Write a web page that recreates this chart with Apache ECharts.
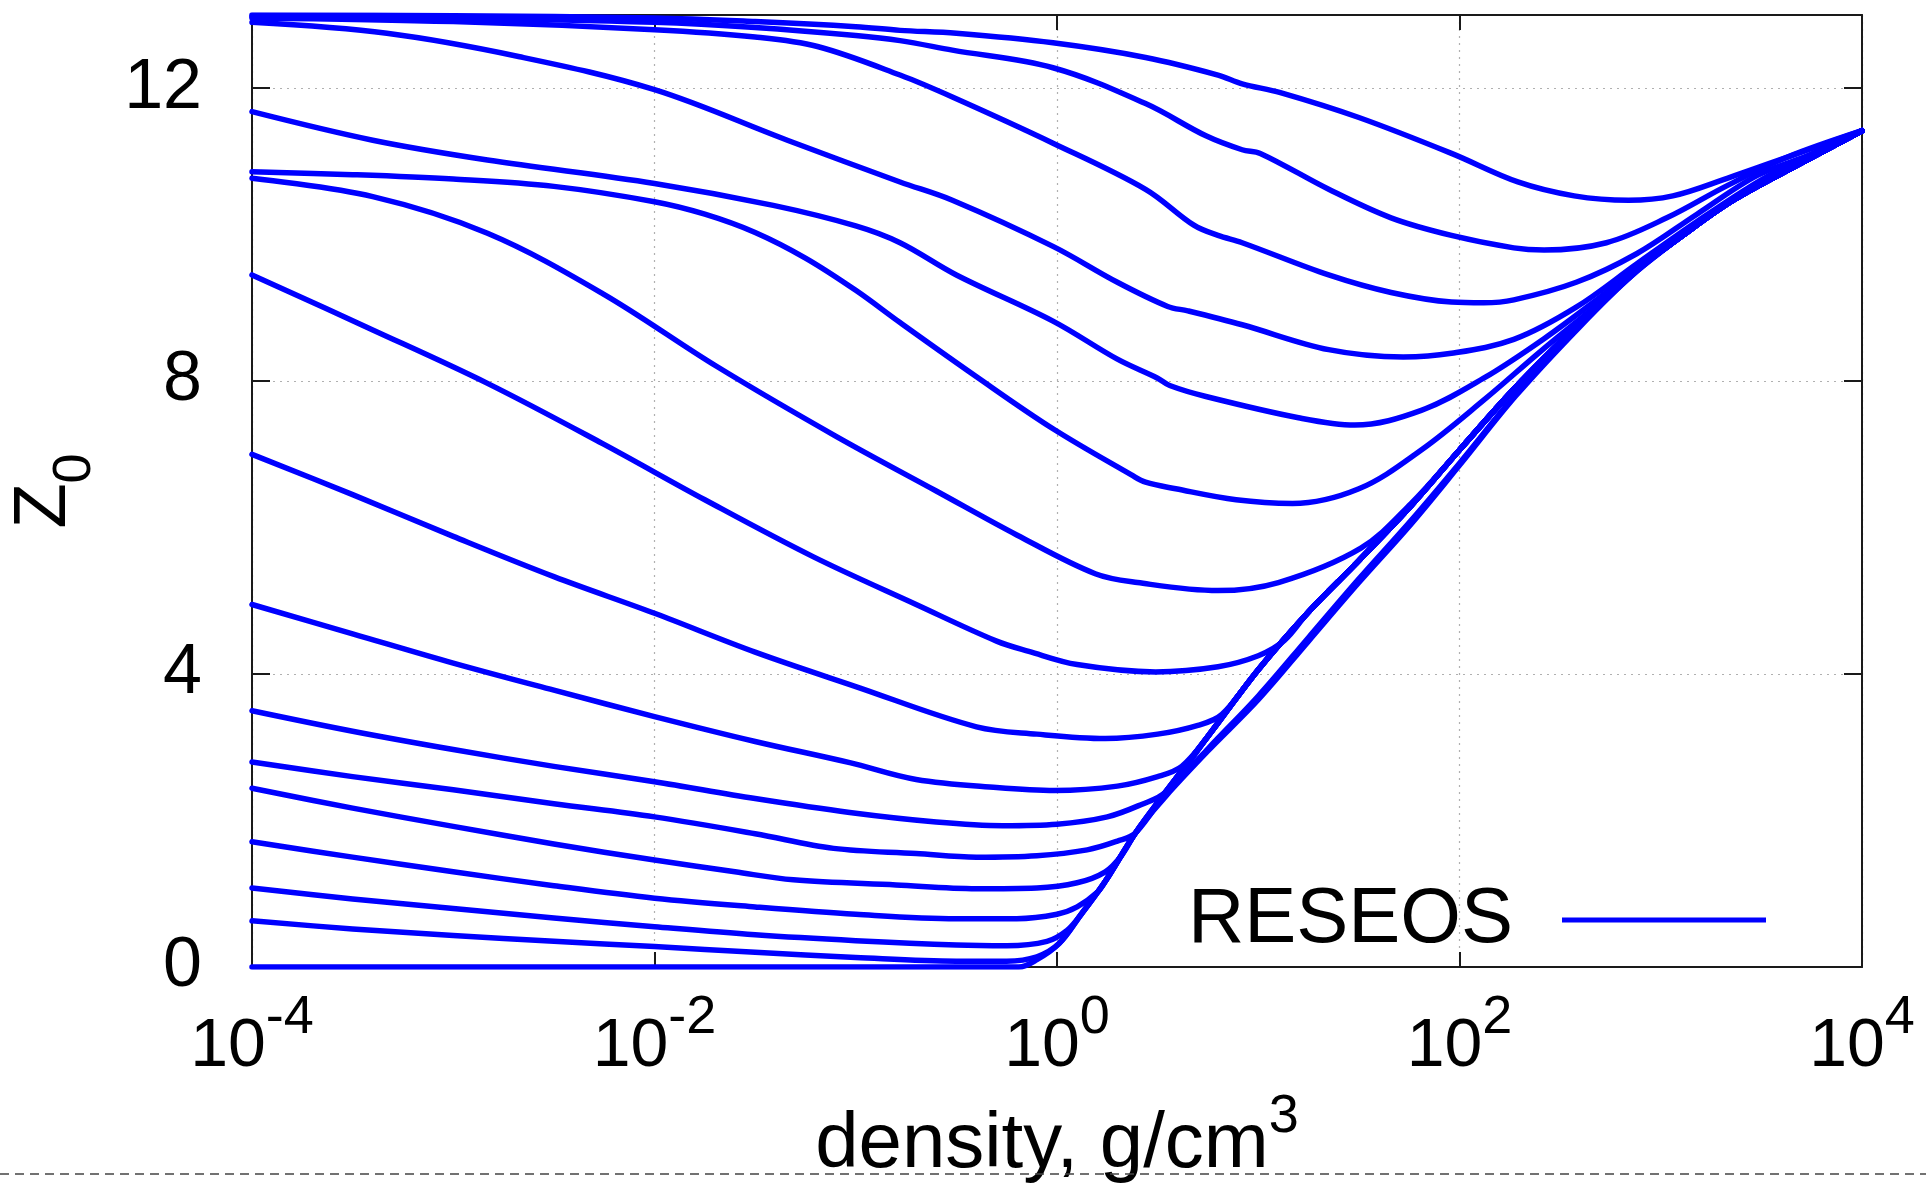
<!DOCTYPE html>
<html>
<head>
<meta charset="utf-8">
<script src="https://cdn.jsdelivr.net/npm/echarts@6/dist/echarts.min.js"></script>
<style>
  html, body { margin: 0; padding: 0; background: #ffffff; }
  #chart { width: 1926px; height: 1183px; }
</style>
</head>
<body>
<div id="chart"></div>
<script>
// Mean ion charge Z0 versus density; every array is one isotherm,
// points are [log10(density, g/cm^3), Z0].
const iso01 = [[-4,13.0],[-3,12.99],[-2,12.96],[-1.5,12.91],[-1,12.84],[-0.78,12.79],[-0.5,12.75],[-0.02,12.62],[0.44,12.42],[0.8,12.18],[0.92,12.06],[1.11,11.94],[1.5,11.6],[1.96,11.11],[2.29,10.72],[2.57,10.53],[2.84,10.47],[3.06,10.53],[3.33,10.77],[3.63,11.06],[4,11.42]];
const iso02 = [[-4,12.98],[-3,12.96],[-2,12.9],[-1.5,12.83],[-1,12.72],[-0.78,12.65],[-0.52,12.52],[-0.02,12.28],[0.44,11.79],[0.74,11.35],[0.92,11.16],[1.01,11.11],[1.35,10.62],[1.66,10.23],[1.96,9.99],[2.27,9.82],[2.42,9.79],[2.73,9.89],[3.03,10.23],[3.33,10.67],[3.63,11.06],[4,11.42]];
const iso03 = [[-4,12.96],[-3,12.91],[-2,12.8],[-1.5,12.7],[-1.19,12.57],[-0.78,12.18],[-0.52,11.88],[-0.02,11.25],[0.44,10.62],[0.68,10.13],[0.8,9.99],[0.92,9.89],[1.35,9.45],[1.66,9.21],[1.96,9.08],[2.12,9.07],[2.27,9.11],[2.58,9.35],[2.88,9.74],[3.18,10.28],[3.48,10.81],[3.75,11.1],[4,11.42]];
const iso04 = [[-4,12.9],[-3.33,12.75],[-2.67,12.43],[-2,11.98],[-1.34,11.29],[-0.78,10.72],[-0.52,10.47],[-0.02,9.84],[0.3,9.35],[0.55,9.02],[0.65,8.96],[0.92,8.77],[1.35,8.43],[1.72,8.33],[1.96,8.38],[2.27,8.57],[2.58,9.01],[2.88,9.6],[3.18,10.18],[3.5,10.75],[3.75,11.1],[4,11.42]];
const iso05 = [[-4,11.68],[-3.4,11.29],[-2.83,11.02],[-2,10.7],[-1.41,10.4],[-1,10.12],[-0.78,9.89],[-0.5,9.45],[-0.02,8.82],[0.3,8.3],[0.5,8.04],[0.56,7.94],[0.74,7.79],[1.2,7.5],[1.48,7.4],[1.81,7.6],[2.12,8.04],[2.42,8.58],[2.7,9.15],[2.86,9.5],[3.1,9.99],[3.36,10.47],[3.7,10.98],[4,11.42]];
const iso06 = [[-4,10.86],[-3.5,10.82],[-3,10.76],[-2.5,10.66],[-2,10.45],[-1.75,10.28],[-1.5,10.03],[-1.25,9.68],[-1,9.24],[-0.78,8.8],[-0.4,8.06],[-0.02,7.35],[0.37,6.72],[0.44,6.62],[0.59,6.53],[0.89,6.38],[1.17,6.33],[1.5,6.53],[1.81,7.06],[2.12,7.74],[2.4,8.4],[2.7,9.08],[2.86,9.47],[3.1,9.97],[3.36,10.47],[3.7,10.98],[4,11.42]];
const iso07 = [[-4,10.77],[-3.4,10.52],[-2.83,10.02],[-2.26,9.2],[-1.69,8.2],[-1.1,7.25],[-0.6,6.5],[-0.2,5.9],[0.19,5.37],[0.4,5.25],[0.8,5.14],[1.1,5.25],[1.51,5.72],[1.76,6.33],[2.0,7.06],[2.28,7.92],[2.6,8.8],[2.86,9.47],[3.1,9.97],[3.36,10.47],[3.7,10.98],[4,11.42]];
const iso08 = [[-4,9.45],[-3.4,8.7],[-2.83,7.97],[-2.26,7.15],[-1.75,6.38],[-1.21,5.6],[-0.7,4.95],[-0.3,4.45],[-0.14,4.31],[0.1,4.13],[0.49,4.03],[0.8,4.1],[1.0,4.25],[1.13,4.46],[1.25,4.85],[1.5,5.55],[1.76,6.3],[2.0,7.06],[2.28,7.92],[2.6,8.8],[2.86,9.47],[3.1,9.97],[3.36,10.47],[3.7,10.98],[4,11.42]];
const iso09 = [[-4,7.0],[-3.5,6.45],[-3,5.88],[-2.5,5.33],[-2,4.83],[-1.5,4.3],[-1,3.83],[-0.4,3.28],[-0.1,3.18],[0.24,3.12],[0.5,3.18],[0.7,3.3],[0.82,3.45],[1.0,4.06],[1.25,4.85],[1.5,5.55],[1.76,6.3],[2.0,7.06],[2.28,7.92],[2.6,8.8],[2.86,9.47],[3.1,9.97],[3.36,10.47],[3.7,10.98],[4,11.42]];
const iso10 = [[-4,4.95],[-3.5,4.55],[-3,4.15],[-2.5,3.78],[-2,3.42],[-1.5,3.08],[-1.03,2.79],[-0.7,2.56],[-0.3,2.45],[-0.01,2.41],[0.3,2.47],[0.5,2.6],[0.62,2.74],[0.75,3.15],[1.0,4.06],[1.25,4.85],[1.5,5.55],[1.76,6.3],[2.0,7.06],[2.28,7.92],[2.6,8.8],[2.86,9.47],[3.1,9.97],[3.36,10.47],[3.7,10.98],[4,11.42]];
const iso11 = [[-4,3.5],[-3.5,3.22],[-3,2.97],[-2.5,2.74],[-2,2.53],[-1.5,2.3],[-1.03,2.11],[-0.6,1.98],[-0.27,1.93],[0,1.95],[0.25,2.05],[0.42,2.22],[0.54,2.39],[0.75,3.15],[1.0,4.06],[1.25,4.85],[1.5,5.55],[1.76,6.3],[2.0,7.06],[2.28,7.92],[2.6,8.8],[2.86,9.47],[3.1,9.97],[3.36,10.47],[3.7,10.98],[4,11.42]];
const iso12 = [[-4,2.8],[-3.5,2.6],[-3,2.42],[-2.5,2.23],[-2,2.05],[-1.5,1.82],[-1.11,1.62],[-0.7,1.55],[-0.4,1.5],[-0.1,1.52],[0.15,1.6],[0.3,1.72],[0.39,1.83],[0.54,2.39],[0.75,3.15],[1.0,4.06],[1.25,4.85],[1.5,5.55],[1.76,6.3],[2.0,7.06],[2.28,7.92],[2.6,8.8],[2.86,9.47],[3.1,9.97],[3.36,10.47],[3.7,10.98],[4,11.42]];
const iso13 = [[-4,2.44],[-3.5,2.17],[-3,1.92],[-2.5,1.68],[-2,1.46],[-1.6,1.3],[-1.31,1.19],[-0.8,1.12],[-0.4,1.07],[-0.1,1.08],[0.1,1.15],[0.24,1.3],[0.32,1.52],[0.39,1.83],[0.54,2.39],[0.75,3.15],[1.0,4.06],[1.25,4.85],[1.5,5.55],[1.76,6.3],[2.0,7.06],[2.28,7.92],[2.6,8.8],[2.86,9.47],[3.1,9.97],[3.36,10.47],[3.7,10.98],[4,11.42]];
const iso14 = [[-4,1.71],[-3.5,1.5],[-3,1.3],[-2.5,1.11],[-2,0.94],[-1.5,0.82],[-1,0.72],[-0.5,0.66],[-0.2,0.66],[0,0.72],[0.1,0.82],[0.2,1.02],[0.24,1.17],[0.39,1.83],[0.54,2.39],[0.75,3.15],[1.0,4.06],[1.25,4.85],[1.5,5.55],[1.76,6.3],[2.0,7.06],[2.28,7.92],[2.6,8.8],[2.86,9.47],[3.1,9.97],[3.36,10.47],[3.7,10.98],[4,11.42]];
const iso15 = [[-4,1.08],[-3.5,0.93],[-3,0.8],[-2.5,0.67],[-2,0.55],[-1.5,0.44],[-1,0.36],[-0.5,0.3],[-0.25,0.29],[-0.05,0.35],[0.05,0.5],[0.12,0.72],[0.24,1.17],[0.39,1.83],[0.54,2.39],[0.75,3.15],[1.0,4.06],[1.25,4.85],[1.5,5.55],[1.76,6.3],[2.0,7.06],[2.28,7.92],[2.6,8.8],[2.86,9.47],[3.1,9.97],[3.36,10.47],[3.7,10.98],[4,11.42]];
const iso16 = [[-4,0.63],[-3.5,0.52],[-3,0.43],[-2.5,0.35],[-2,0.28],[-1.5,0.2],[-1,0.13],[-0.5,0.08],[-0.25,0.08],[-0.1,0.14],[0.01,0.32],[0.12,0.72],[0.24,1.17],[0.39,1.83],[0.54,2.35],[0.75,2.98],[1.0,3.7],[1.25,4.5],[1.5,5.3],[1.76,6.1],[2.0,6.88],[2.28,7.82],[2.6,8.77],[2.86,9.45],[3.1,9.97],[3.36,10.47],[3.7,10.98],[4,11.42]];
const iso17 = [[-4,0],[-1,0],[-0.19,0],[-0.1,0.1],[0.01,0.32],[0.12,0.72],[0.24,1.17],[0.39,1.83],[0.54,2.33],[0.75,2.95],[1.0,3.65],[1.25,4.45],[1.5,5.25],[1.76,6.05],[2.0,6.85],[2.28,7.8],[2.6,8.75],[2.86,9.45],[3.1,9.97],[3.36,10.47],[3.7,10.98],[4,11.42]];

const isotherms = [iso01, iso02, iso03, iso04, iso05, iso06, iso07, iso08, iso09,
                   iso10, iso11, iso12, iso13, iso14, iso15, iso16, iso17];

// axis ticks: decades of density (as exponents of 10) and Z0 values
const densityExponents = [-4, -2, 0, 2, 4];
const zTicks = [0, 4, 8, 12];
const zTop = 13;
const seriesName = 'RESEOS';

const FONT = '"Liberation Sans", Arial, Helvetica, sans-serif';
const BLUE = '#0000ff';
const FRAME = '#1a1a1a';

const chart = echarts.init(document.getElementById('chart'), null, { renderer: 'canvas' });

const xMin = densityExponents[0];
const xMax = densityExponents[densityExponents.length - 1];
const xStep = densityExponents[1] - densityExponents[0];
const zStep = zTicks[1] - zTicks[0];

const frameLine = { show: true, onZero: false, lineStyle: { color: FRAME, width: 2 } };

const option = {
  animation: false,
  backgroundColor: '#ffffff',
  grid: { left: 252, right: 64, top: 15, bottom: 216, containLabel: false, outerBoundsMode: 'none' },
  legend: {
    data: [{ name: seriesName, icon: 'path://M0 0H204V5H0Z' }],
    itemWidth: 204,
    itemHeight: 5,
    align: 'right',
    right: 160,
    top: 881,
    padding: 0,
    selectedMode: false,
    formatter: (name) => '{t|' + name + '}',
    textStyle: {
      fontFamily: FONT, fontSize: 78, color: '#000',
      rich: { t: { fontFamily: FONT, fontSize: 78, color: '#000', padding: [0, 44, 0, 0], lineHeight: 84 } }
    }
  },
  xAxis: [
    {
      type: 'value', position: 'bottom', min: xMin, max: xMax, interval: xStep,
      axisLine: frameLine,
      axisTick: { show: true, inside: true, length: 15, lineStyle: { color: FRAME, width: 2 } },
      splitLine: { show: true, lineStyle: { color: '#b0b0b0', width: 1.2, type: [2, 5] } },
      axisLabel: {
        margin: 24,
        formatter: (v) => '{b|10}{e|' + v + '}',
        rich: {
          b: { fontFamily: FONT, fontSize: 68, color: '#000', verticalAlign: 'bottom', lineHeight: 90 },
          e: { fontFamily: FONT, fontSize: 54, color: '#000', verticalAlign: 'top', lineHeight: 90 }
        }
      },
      name: '{n|density, g/cm}{s|3}',
      nameLocation: 'middle',
      nameGap: 123,
      nameMoveOverlap: false,
      nameTextStyle: {
        rich: {
          n: { fontFamily: FONT, fontSize: 78, color: '#000', verticalAlign: 'bottom', lineHeight: 94 },
          s: { fontFamily: FONT, fontSize: 54, color: '#000', verticalAlign: 'top', lineHeight: 94 }
        }
      }
    },
    {
      type: 'value', position: 'top', min: xMin, max: xMax, interval: xStep,
      axisLine: frameLine,
      axisTick: { show: true, inside: true, length: 15, lineStyle: { color: FRAME, width: 2 } },
      splitLine: { show: false },
      axisLabel: { show: false }
    }
  ],
  yAxis: [
    {
      type: 'value', position: 'left', min: zTicks[0], max: zTop, interval: zStep,
      axisLine: frameLine,
      axisTick: { show: true, inside: true, length: 18, lineStyle: { color: FRAME, width: 2 } },
      splitLine: { show: true, lineStyle: { color: '#b0b0b0', width: 1.2, type: [2, 5] } },
      axisLabel: { fontFamily: FONT, fontSize: 70, color: '#000', margin: 50, showMaxLabel: false },
      name: '{z|Z}{s|0}',
      nameLocation: 'middle',
      nameRotate: 90,
      nameGap: 150,
      nameMoveOverlap: false,
      nameTextStyle: {
        rich: {
          z: { fontFamily: FONT, fontSize: 74, color: '#000', verticalAlign: 'top', lineHeight: 94 },
          s: { fontFamily: FONT, fontSize: 54, color: '#000', verticalAlign: 'bottom', lineHeight: 94 }
        }
      }
    },
    {
      type: 'value', position: 'right', min: zTicks[0], max: zTop, interval: zStep,
      axisLine: frameLine,
      axisTick: { show: true, inside: true, length: 18, lineStyle: { color: FRAME, width: 2 } },
      splitLine: { show: false },
      axisLabel: { show: false }
    }
  ],
  series: isotherms.map((pts) => ({
    name: seriesName,
    type: 'line',
    xAxisIndex: 0,
    yAxisIndex: 0,
    data: pts,
    symbol: 'none',
    showSymbol: false,
    smooth: 0.35,
    silent: true,
    z: 3,
    lineStyle: { color: BLUE, width: 5.5, join: 'round', cap: 'round' },
    itemStyle: { color: BLUE }
  })),
  graphic: [
    {
      type: 'line',
      silent: true,
      z: 50,
      shape: { x1: 0, y1: 1174, x2: 1926, y2: 1174 },
      style: { stroke: '#444444', lineWidth: 1.5, lineDash: [9, 6] }
    }
  ]
};

chart.setOption(option);
</script>
</body>
</html>
